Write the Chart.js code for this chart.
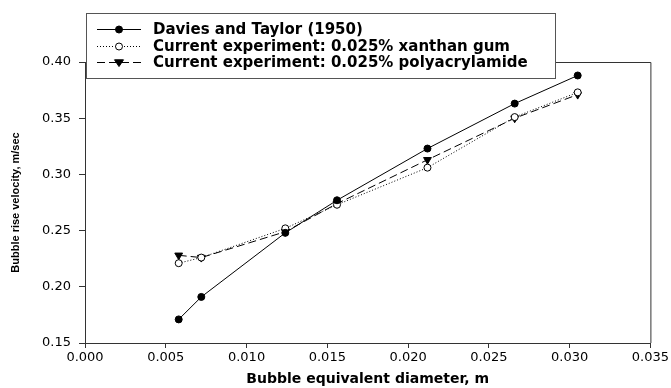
<!DOCTYPE html>
<html>
<head>
<meta charset="utf-8">
<script src="https://cdn.jsdelivr.net/npm/chart.js"></script>
<style>
  html, body { margin: 0; padding: 0; background: #fff; }
  #wrap { width: 671px; height: 388px; }
</style>
</head>
<body>
<div id="wrap"><canvas id="bubbleChart"></canvas></div>
<script>
// values
const diameter = [0.0058, 0.0072, 0.0124, 0.0156, 0.0212, 0.0266, 0.0305];
const daviesTaylor = [0.171, 0.191, 0.248, 0.277, 0.323, 0.363, 0.388];
const xanthanGum = [0.221, 0.226, 0.252, 0.273, 0.306, 0.351, 0.373];
const polyacrylamide = [0.228, 0.226, 0.249, 0.274, 0.313, 0.350, 0.371];
const seriesNames = [
  'Davies and Taylor (1950)',
  'Current experiment: 0.025% xanthan gum',
  'Current experiment: 0.025% polyacrylamide'
];

function toPoints(ys) {
  return diameter.map((x, i) => ({ x: x, y: ys[i] }));
}

// draws the box around the plot and the legend in the top-left corner
const frameAndLegend = {
  id: 'frameAndLegend',
  afterDraw(chart) {
    const ctx = chart.ctx;
    const a = chart.chartArea;
    ctx.save();
    ctx.strokeStyle = '#333';
    ctx.lineWidth = 1;
    ctx.beginPath();
    ctx.moveTo(a.left, a.top + 0.5);
    ctx.lineTo(a.right + 0.5, a.top + 0.5);
    ctx.lineTo(a.right + 0.5, a.bottom);
    ctx.stroke();

    // legend box
    const bx = 86, by = 13, bw = 469, bh = 65;
    ctx.fillStyle = '#fff';
    ctx.fillRect(bx, by, bw, bh);
    ctx.strokeStyle = '#555';
    ctx.strokeRect(bx + 0.5, by + 0.5, bw, bh);

    const rows = [29, 46, 62];
    chart.data.datasets.forEach((ds, i) => {
      const y = rows[i] + 0.5;
      ctx.strokeStyle = '#000';
      ctx.lineWidth = 1;
      ctx.setLineDash(ds.borderDash || []);
      ctx.beginPath();
      ctx.moveTo(97, y);
      ctx.lineTo(141, y);
      ctx.stroke();
      ctx.setLineDash([]);
      const cx = 119;
      ctx.fillStyle = ds.pointBackgroundColor;
      ctx.beginPath();
      if (ds.pointStyle === 'triangle') {
        const r = ds.pointRadius;
        ctx.moveTo(cx - r, y - r * 0.6);
        ctx.lineTo(cx + r, y - r * 0.6);
        ctx.lineTo(cx, y + r * 0.9);
        ctx.closePath();
      } else {
        ctx.arc(cx, y, ds.pointRadius, 0, Math.PI * 2);
      }
      ctx.fill();
      ctx.stroke();

      ctx.fillStyle = '#000';
      ctx.font = 'bold 15px "DejaVu Sans"';
      ctx.textBaseline = 'middle';
      ctx.textAlign = 'left';
      ctx.fillText(ds.label, 153, rows[i] + 1);
    });
    ctx.restore();
  }
};

const ctx = document.getElementById('bubbleChart');
const bubbleChart = new Chart(ctx, {
  type: 'line',
  data: {
    datasets: [{
      label: seriesNames[0],
      data: toPoints(daviesTaylor),
      borderColor: '#000',
      borderWidth: 1,
      pointStyle: 'circle',
      pointRadius: 3.5,
      pointBackgroundColor: '#000',
      pointBorderColor: '#000'
    }, {
      label: seriesNames[1],
      data: toPoints(xanthanGum),
      borderColor: '#000',
      borderWidth: 1,
      borderDash: [1, 2],
      pointStyle: 'circle',
      pointRadius: 3.5,
      pointBackgroundColor: '#fff',
      pointBorderColor: '#000'
    }, {
      label: seriesNames[2],
      data: toPoints(polyacrylamide),
      borderColor: '#000',
      borderWidth: 1,
      borderDash: [8, 4],
      pointStyle: 'triangle',
      pointRotation: 180,
      pointRadius: 4.5,
      pointBackgroundColor: '#000',
      pointBorderColor: '#000'
    }]
  },
  options: {
    responsive: true,
    maintainAspectRatio: false,
    animation: false,
    layout: { padding: { top: 62, right: 19, left: 0, bottom: 0 } },
    plugins: {
      legend: { display: false },
      tooltip: { enabled: false }
    },
    scales: {
      x: {
        type: 'linear',
        min: 0,
        max: 0.035,
        afterFit: s => { s.height = 45; },
        ticks: {
          stepSize: 0.005,
          color: '#000',
          padding: 2,
          maxRotation: 0,
          font: { family: 'DejaVu Sans', size: 13 },
          callback: v => v.toFixed(3)
        },
        grid: { drawOnChartArea: false, drawTicks: true, tickLength: 5, color: '#333' },
        border: { color: '#333' },
        title: {
          display: true,
          text: 'Bubble equivalent diameter, m',
          color: '#000',
          padding: { top: 6, bottom: 0 },
          font: { family: 'DejaVu Sans', size: 14, weight: 'bold' }
        }
      },
      y: {
        min: 0.15,
        max: 0.40,
        afterFit: s => { s.width = 85; },
        ticks: {
          stepSize: 0.05,
          color: '#000',
          padding: 8,
          font: { family: 'DejaVu Sans', size: 13 },
          callback: v => v.toFixed(2)
        },
        grid: { drawOnChartArea: false, drawTicks: true, tickLength: 6, color: '#333' },
        border: { color: '#333' },
        title: {
          display: true,
          text: 'Bubble rise velocity, m/sec',
          color: '#000',
          padding: { top: 9, bottom: 0 },
          font: { family: 'Liberation Sans', size: 11, weight: 'bold' }
        }
      }
    }
  },
  plugins: [frameAndLegend]
});
</script>
</body>
</html>
